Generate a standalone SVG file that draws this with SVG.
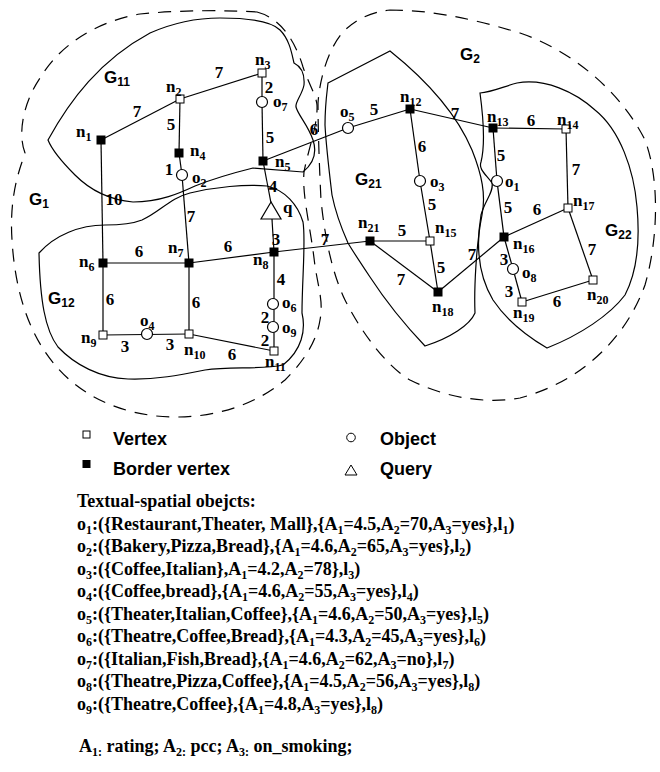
<svg xmlns="http://www.w3.org/2000/svg" width="660" height="772" viewBox="0 0 660 772">
<style>
.e{stroke:#000;stroke-width:1.2;fill:none}
.b{fill:none;stroke:#000;stroke-width:1.2}
.d{fill:none;stroke:#000;stroke-width:1.2;stroke-dasharray:13 9}
.hv{fill:#fff;stroke:#000;stroke-width:1}
.bv{fill:#000}
.ob{fill:#fff;stroke:#000;stroke-width:1.2}
.lb{font-family:"Liberation Serif","Times New Roman",serif;font-weight:bold;font-size:17px;fill:#000}
.el{font-family:"Liberation Serif","Times New Roman",serif;font-weight:bold;font-size:17px;text-anchor:middle;fill:#000}
.s{font-size:12px}
.g{font-family:"Liberation Sans",Arial,sans-serif;font-weight:bold;font-size:17px;fill:#000}
.lg{font-family:"Liberation Sans",Arial,sans-serif;font-weight:bold;font-size:18px;fill:#000}
.tx{font-family:"Liberation Serif","Times New Roman",serif;font-weight:bold;font-size:18px;fill:#000}
</style>
<rect width="660" height="772" fill="#fff"/>
<g id="regions">
<path class="d" d="M 257,12 C 280,18 295,40 303,67 C 308,82 316,95 317,105 C 318,125 308,150 304,172 C 302,195 310,225 314,258 C 317,285 324,300 320,320 C 316,345 300,365 285,380 C 255,405 215,418 170,417 C 120,415 80,395 55,365 C 28,333 15,290 12,240 C 10,210 14,185 22,162 L 25,153 C 18,135 22,105 40,78 C 60,45 95,22 140,14 C 180,10 225,10 257,12 Z"/>
<path class="d" d="M 390,10 C 430,10 470,18 520,33 C 570,50 620,90 645,140 C 660,180 658,240 645,285 C 625,340 580,382 520,398 C 480,405 440,395 410,380 C 385,365 360,330 345,300 C 333,275 325,240 321,200 C 319,160 318,125 318,103 C 320,75 330,45 345,30 C 358,18 372,12 390,10 Z"/>
<path class="b" d="M 48,140 C 70,100 100,60 150,33 C 175,22 200,18 220,18 C 245,18 270,20 280,30 C 290,40 292,55 294,63 C 300,66 305,72 304,85 C 302,95 295,102 296,107 C 298,115 308,125 313,140 C 317,152 314,163 303,172 L 253,168 C 225,175 210,180 195,186 C 180,193 160,202 133,202 C 110,200 90,190 75,175 C 62,162 52,150 48,140 Z"/>
<path class="b" d="M 39,253 C 55,235 80,225 105,225 C 120,225 132,224 142,220 C 160,212 170,198 190,193 C 215,187 245,184 267,186 C 285,190 298,205 303,222 C 306,240 302,280 302,313 C 306,330 302,350 283,365 C 260,370 230,366 205,370 C 180,375 155,380 128,379 C 100,378 75,365 58,347 C 45,330 40,300 39,253 Z"/>
<path class="b" d="M 328,83 L 390,51 C 420,75 455,110 472,150 C 482,175 486,195 482,215 C 476,245 474,290 475,313 C 470,325 450,338 425,346 C 405,325 385,300 370,277 C 360,262 352,250 348,243 C 340,225 335,210 332,195 C 329,170 326,145 325,125 C 325,105 327,92 328,83 Z"/>
<path class="b" d="M 480,93 C 485,130 484,150 481,162 C 478,170 488,176 492,183 C 494,192 485,200 481,215 C 476,245 478,275 493,300 C 505,318 525,335 547,348 C 580,335 610,315 625,295 C 638,270 640,240 637,207 C 634,170 620,130 595,110 C 575,92 545,78 517,83 C 505,86 492,92 480,93 Z"/>
</g>
<g id="connectors">
<line class="e" x1="101" y1="140" x2="180" y2="99"/>
<line class="e" x1="180" y1="99" x2="262" y2="73"/>
<line class="e" x1="180" y1="99" x2="179" y2="153"/>
<line class="e" x1="179" y1="153" x2="182" y2="175"/>
<line class="e" x1="182" y1="175" x2="189" y2="263"/>
<line class="e" x1="262" y1="73" x2="262" y2="102"/>
<line class="e" x1="262" y1="102" x2="263" y2="161"/>
<line class="e" x1="263" y1="161" x2="271" y2="203"/>
<line class="e" x1="272" y1="219" x2="274" y2="252"/>
<line class="e" x1="101" y1="140" x2="103" y2="263"/>
<line class="e" x1="103" y1="263" x2="189" y2="263"/>
<line class="e" x1="189" y1="263" x2="274" y2="252"/>
<line class="e" x1="103" y1="263" x2="103" y2="335"/>
<line class="e" x1="189" y1="263" x2="189" y2="334"/>
<line class="e" x1="103" y1="335" x2="189" y2="334"/>
<line class="e" x1="189" y1="334" x2="274" y2="351"/>
<line class="e" x1="274" y1="252" x2="274" y2="351"/>
<line class="e" x1="263" y1="161" x2="348" y2="128"/>
<line class="e" x1="348" y1="128" x2="410" y2="109"/>
<line class="e" x1="410" y1="109" x2="493" y2="128"/>
<line class="e" x1="493" y1="128" x2="566" y2="129"/>
<line class="e" x1="566" y1="129" x2="568" y2="208"/>
<line class="e" x1="410" y1="109" x2="420" y2="181"/>
<line class="e" x1="420" y1="181" x2="430" y2="241"/>
<line class="e" x1="430" y1="241" x2="438" y2="292"/>
<line class="e" x1="493" y1="128" x2="497" y2="181"/>
<line class="e" x1="497" y1="181" x2="504" y2="237"/>
<line class="e" x1="504" y1="237" x2="568" y2="208"/>
<line class="e" x1="568" y1="208" x2="593" y2="280"/>
<line class="e" x1="504" y1="237" x2="513" y2="269"/>
<line class="e" x1="513" y1="269" x2="522" y2="302"/>
<line class="e" x1="522" y1="302" x2="593" y2="280"/>
<line class="e" x1="274" y1="252" x2="370" y2="241"/>
<line class="e" x1="370" y1="241" x2="430" y2="241"/>
<line class="e" x1="370" y1="241" x2="438" y2="292"/>
<line class="e" x1="438" y1="292" x2="504" y2="237"/>
</g>
<g id="edge-labels">
<text class="el" x="137" y="117">7</text>
<text class="el" x="219" y="78">7</text>
<text class="el" x="171" y="130">5</text>
<text class="el" x="269" y="93">2</text>
<text class="el" x="270" y="143">5</text>
<text class="el" x="169" y="175">1</text>
<text class="el" x="314" y="135">6</text>
<text class="el" x="273" y="192">4</text>
<text class="el" x="114" y="205">10</text>
<text class="el" x="191" y="222">7</text>
<text class="el" x="276" y="245">3</text>
<text class="el" x="228" y="252">6</text>
<text class="el" x="139" y="257">6</text>
<text class="el" x="110" y="305">6</text>
<text class="el" x="196" y="308">6</text>
<text class="el" x="281" y="285">4</text>
<text class="el" x="265" y="323">2</text>
<text class="el" x="265" y="346">2</text>
<text class="el" x="125" y="352">3</text>
<text class="el" x="170" y="350">3</text>
<text class="el" x="232" y="360">6</text>
<text class="el" x="325" y="245">7</text>
<text class="el" x="374" y="115">5</text>
<text class="el" x="455" y="119">7</text>
<text class="el" x="531" y="126">6</text>
<text class="el" x="422" y="152">6</text>
<text class="el" x="501" y="161">5</text>
<text class="el" x="576" y="175">7</text>
<text class="el" x="402" y="236">5</text>
<text class="el" x="432" y="210">5</text>
<text class="el" x="508" y="213">5</text>
<text class="el" x="537" y="215">6</text>
<text class="el" x="472" y="260">7</text>
<text class="el" x="504" y="265">3</text>
<text class="el" x="592" y="255">7</text>
<text class="el" x="441" y="273">5</text>
<text class="el" x="401" y="285">7</text>
<text class="el" x="509" y="297">3</text>
<text class="el" x="557" y="307">6</text>
</g>
<g id="region-labels">
<text class="g" x="104" y="83">G<tspan class="s" dy="3">11</tspan></text>
<text class="g" x="29" y="205">G<tspan class="s" dy="3">1</tspan></text>
<text class="g" x="48" y="304">G<tspan class="s" dy="3">12</tspan></text>
<text class="g" x="460" y="60">G<tspan class="s" dy="3">2</tspan></text>
<text class="g" x="355" y="185">G<tspan class="s" dy="3">21</tspan></text>
<text class="g" x="605" y="236">G<tspan class="s" dy="3">22</tspan></text>
</g>
<g id="n1"><rect class="bv" x="96.5" y="135.5" width="9" height="9"/><text class="lb" x="76" y="137">n<tspan class="s" dy="4">1</tspan></text></g>
<g id="n2"><rect class="hv" x="176" y="95" width="8" height="8"/><text class="lb" x="166" y="92">n<tspan class="s" dy="4">2</tspan></text></g>
<g id="n3"><rect class="hv" x="258" y="69" width="8" height="8"/><text class="lb" x="255" y="65">n<tspan class="s" dy="4">3</tspan></text></g>
<g id="n4"><rect class="bv" x="174.5" y="148.5" width="9" height="9"/><text class="lb" x="190" y="156">n<tspan class="s" dy="4">4</tspan></text></g>
<g id="n5"><rect class="bv" x="258.5" y="156.5" width="9" height="9"/><text class="lb" x="275" y="167">n<tspan class="s" dy="4">5</tspan></text></g>
<g id="n6"><rect class="bv" x="98.5" y="258.5" width="9" height="9"/><text class="lb" x="79" y="267">n<tspan class="s" dy="4">6</tspan></text></g>
<g id="n7"><rect class="bv" x="184.5" y="258.5" width="9" height="9"/><text class="lb" x="168" y="253">n<tspan class="s" dy="4">7</tspan></text></g>
<g id="n8"><rect class="bv" x="269.5" y="247.5" width="9" height="9"/><text class="lb" x="253" y="265">n<tspan class="s" dy="4">8</tspan></text></g>
<g id="n9"><rect class="hv" x="99" y="331" width="8" height="8"/><text class="lb" x="81" y="343">n<tspan class="s" dy="4">9</tspan></text></g>
<g id="n10"><rect class="hv" x="185" y="330" width="8" height="8"/><text class="lb" x="184" y="355">n<tspan class="s" dy="4">10</tspan></text></g>
<g id="n11"><rect class="hv" x="270" y="347" width="8" height="8"/><text class="lb" x="265" y="367">n<tspan class="s" dy="4">11</tspan></text></g>
<g id="n12"><rect class="bv" x="405.5" y="104.5" width="9" height="9"/><text class="lb" x="400" y="102">n<tspan class="s" dy="4">12</tspan></text></g>
<g id="n13"><rect class="bv" x="488.5" y="123.5" width="9" height="9"/><text class="lb" x="487" y="122">n<tspan class="s" dy="4">13</tspan></text></g>
<g id="n14"><rect class="hv" x="562" y="125" width="8" height="8"/><text class="lb" x="557" y="125">n<tspan class="s" dy="4">14</tspan></text></g>
<g id="n15"><rect class="hv" x="426" y="237" width="8" height="8"/><text class="lb" x="435" y="233">n<tspan class="s" dy="4">15</tspan></text></g>
<g id="n16"><rect class="bv" x="499.5" y="232.5" width="9" height="9"/><text class="lb" x="513" y="249">n<tspan class="s" dy="4">16</tspan></text></g>
<g id="n17"><rect class="hv" x="564" y="204" width="8" height="8"/><text class="lb" x="573" y="206">n<tspan class="s" dy="4">17</tspan></text></g>
<g id="n18"><rect class="bv" x="433.5" y="287.5" width="9" height="9"/><text class="lb" x="432" y="312">n<tspan class="s" dy="4">18</tspan></text></g>
<g id="n19"><rect class="hv" x="518" y="298" width="8" height="8"/><text class="lb" x="513" y="318">n<tspan class="s" dy="4">19</tspan></text></g>
<g id="n20"><rect class="hv" x="589" y="276" width="8" height="8"/><text class="lb" x="587" y="300">n<tspan class="s" dy="4">20</tspan></text></g>
<g id="n21"><rect class="bv" x="365.5" y="236.5" width="9" height="9"/><text class="lb" x="358" y="228">n<tspan class="s" dy="4">21</tspan></text></g>
<g id="o1"><circle class="ob" cx="497" cy="181" r="5.5"/><text class="lb" x="505" y="187">o<tspan class="s" dy="4">1</tspan></text></g>
<g id="o2"><circle class="ob" cx="182" cy="175" r="5.5"/><text class="lb" x="192" y="183">o<tspan class="s" dy="4">2</tspan></text></g>
<g id="o3"><circle class="ob" cx="420" cy="181" r="5.5"/><text class="lb" x="430" y="187">o<tspan class="s" dy="4">3</tspan></text></g>
<g id="o4"><circle class="ob" cx="147" cy="334" r="5.5"/><text class="lb" x="140" y="326">o<tspan class="s" dy="4">4</tspan></text></g>
<g id="o5"><circle class="ob" cx="348" cy="128" r="5.5"/><text class="lb" x="340" y="117">o<tspan class="s" dy="4">5</tspan></text></g>
<g id="o6"><circle class="ob" cx="273" cy="304" r="5.5"/><text class="lb" x="282" y="308">o<tspan class="s" dy="4">6</tspan></text></g>
<g id="o7"><circle class="ob" cx="262" cy="102" r="5.5"/><text class="lb" x="273" y="107">o<tspan class="s" dy="4">7</tspan></text></g>
<g id="o8"><circle class="ob" cx="513" cy="269" r="5.5"/><text class="lb" x="522" y="278">o<tspan class="s" dy="4">8</tspan></text></g>
<g id="o9"><circle class="ob" cx="273" cy="327" r="5.5"/><text class="lb" x="282" y="333">o<tspan class="s" dy="4">9</tspan></text></g>
<g id="q"><polygon class="ob" points="271,202 261,219 281,219"/><text class="lb" x="283" y="213" font-size="19">q</text></g>
<g id="legend">
<rect class="hv" x="83" y="431" width="7" height="7"/><text class="lg" x="113" y="445">Vertex</text>
<rect class="bv" x="82.5" y="460" width="8" height="8"/><text class="lg" x="113" y="475">Border vertex</text>
<circle class="hv" cx="351" cy="437.5" r="4.3"/><text class="lg" x="380" y="445">Object</text>
<polygon class="hv" points="351,465 345,475 357,475"/><text class="lg" x="380" y="475">Query</text>
</g>
<g id="objects">
<text class="tx" x="77" y="507">Textual-spatial obejcts:</text>
<text class="tx" x="77" y="530">o<tspan class="s" dy="4">1</tspan><tspan dy="-4">:({Restaurant,Theater, Mall},{A</tspan><tspan class="s" dy="4">1</tspan><tspan dy="-4">=4.5,A</tspan><tspan class="s" dy="4">2</tspan><tspan dy="-4">=70,A</tspan><tspan class="s" dy="4">3</tspan><tspan dy="-4">=yes},l</tspan><tspan class="s" dy="4">1</tspan><tspan dy="-4">)</tspan></text>
<text class="tx" x="77" y="552">o<tspan class="s" dy="4">2</tspan><tspan dy="-4">:({Bakery,Pizza,Bread},{A</tspan><tspan class="s" dy="4">1</tspan><tspan dy="-4">=4.6,A</tspan><tspan class="s" dy="4">2</tspan><tspan dy="-4">=65,A</tspan><tspan class="s" dy="4">3</tspan><tspan dy="-4">=yes},l</tspan><tspan class="s" dy="4">2</tspan><tspan dy="-4">)</tspan></text>
<text class="tx" x="77" y="575">o<tspan class="s" dy="4">3</tspan><tspan dy="-4">:({Coffee,Italian},A</tspan><tspan class="s" dy="4">1</tspan><tspan dy="-4">=4.2,A</tspan><tspan class="s" dy="4">2</tspan><tspan dy="-4">=78},l</tspan><tspan class="s" dy="4">3</tspan><tspan dy="-4">)</tspan></text>
<text class="tx" x="77" y="597">o<tspan class="s" dy="4">4</tspan><tspan dy="-4">:({Coffee,bread},{A</tspan><tspan class="s" dy="4">1</tspan><tspan dy="-4">=4.6,A</tspan><tspan class="s" dy="4">2</tspan><tspan dy="-4">=55,A</tspan><tspan class="s" dy="4">3</tspan><tspan dy="-4">=yes},l</tspan><tspan class="s" dy="4">4</tspan><tspan dy="-4">)</tspan></text>
<text class="tx" x="77" y="620">o<tspan class="s" dy="4">5</tspan><tspan dy="-4">:({Theater,Italian,Coffee},{A</tspan><tspan class="s" dy="4">1</tspan><tspan dy="-4">=4.6,A</tspan><tspan class="s" dy="4">2</tspan><tspan dy="-4">=50,A</tspan><tspan class="s" dy="4">3</tspan><tspan dy="-4">=yes},l</tspan><tspan class="s" dy="4">5</tspan><tspan dy="-4">)</tspan></text>
<text class="tx" x="77" y="642">o<tspan class="s" dy="4">6</tspan><tspan dy="-4">:({Theatre,Coffee,Bread},{A</tspan><tspan class="s" dy="4">1</tspan><tspan dy="-4">=4.3,A</tspan><tspan class="s" dy="4">2</tspan><tspan dy="-4">=45,A</tspan><tspan class="s" dy="4">3</tspan><tspan dy="-4">=yes},l</tspan><tspan class="s" dy="4">6</tspan><tspan dy="-4">)</tspan></text>
<text class="tx" x="77" y="665">o<tspan class="s" dy="4">7</tspan><tspan dy="-4">:({Italian,Fish,Bread},{A</tspan><tspan class="s" dy="4">1</tspan><tspan dy="-4">=4.6,A</tspan><tspan class="s" dy="4">2</tspan><tspan dy="-4">=62,A</tspan><tspan class="s" dy="4">3</tspan><tspan dy="-4">=no},l</tspan><tspan class="s" dy="4">7</tspan><tspan dy="-4">)</tspan></text>
<text class="tx" x="77" y="687">o<tspan class="s" dy="4">8</tspan><tspan dy="-4">:({Theatre,Pizza,Coffee},{A</tspan><tspan class="s" dy="4">1</tspan><tspan dy="-4">=4.5,A</tspan><tspan class="s" dy="4">2</tspan><tspan dy="-4">=56,A</tspan><tspan class="s" dy="4">3</tspan><tspan dy="-4">=yes},l</tspan><tspan class="s" dy="4">8</tspan><tspan dy="-4">)</tspan></text>
<text class="tx" x="77" y="710">o<tspan class="s" dy="4">9</tspan><tspan dy="-4">:({Theatre,Coffee},{A</tspan><tspan class="s" dy="4">1</tspan><tspan dy="-4">=4.8,A</tspan><tspan class="s" dy="4">3</tspan><tspan dy="-4">=yes},l</tspan><tspan class="s" dy="4">8</tspan><tspan dy="-4">)</tspan></text>
<text class="tx" x="79" y="752">A<tspan class="s" dy="4">1:</tspan><tspan dy="-4"> rating; A</tspan><tspan class="s" dy="4">2:</tspan><tspan dy="-4"> pcc; A</tspan><tspan class="s" dy="4">3:</tspan><tspan dy="-4"> on_smoking;</tspan></text>
</g>
</svg>
